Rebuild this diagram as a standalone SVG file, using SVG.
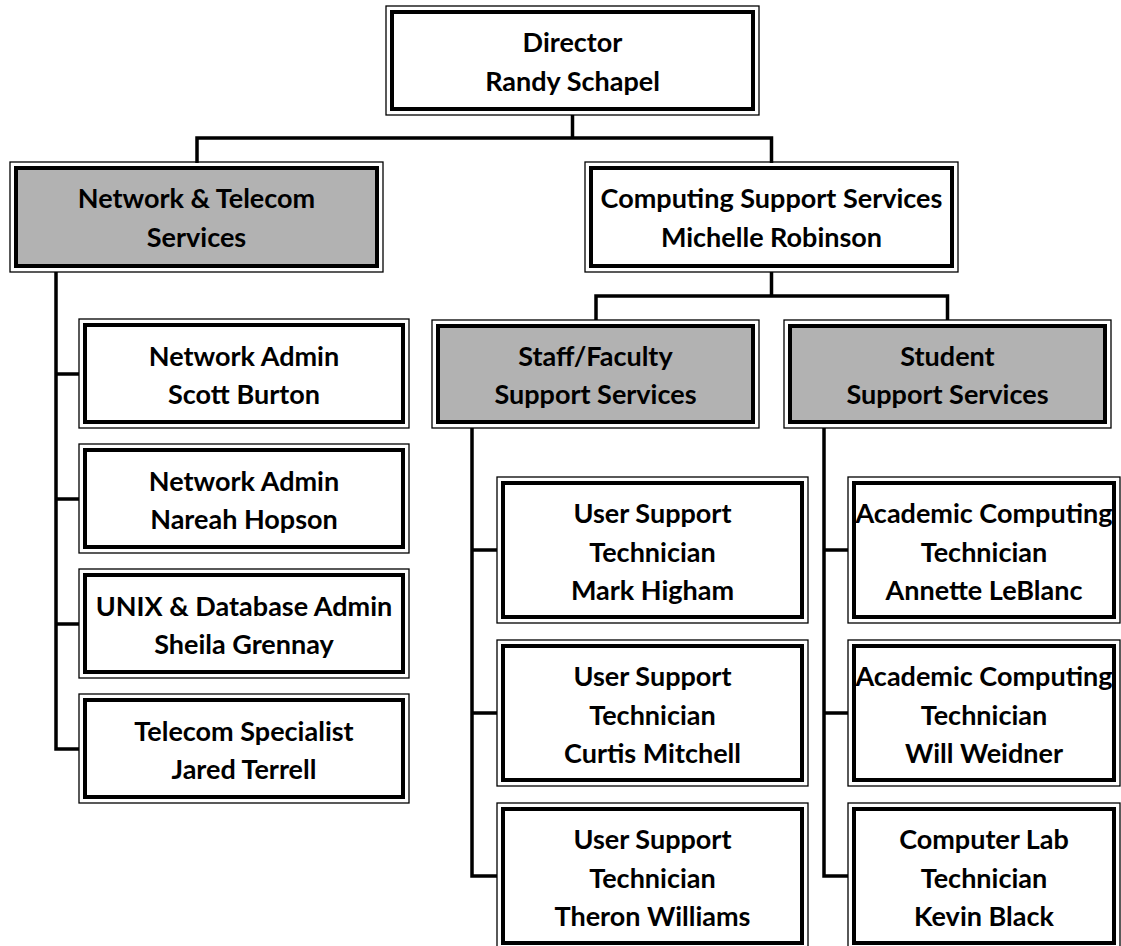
<svg xmlns="http://www.w3.org/2000/svg" width="1121" height="946" viewBox="0 0 1121 946">
<style>
.o{fill:none;stroke:#000;stroke-width:1.3}
.i{stroke:#000;stroke-width:4}
.w{fill:#fff}
.g{fill:#b2b2b2}
.t{font-family:Lato,"Liberation Sans",sans-serif;font-weight:bold;font-size:27px;fill:#000;text-anchor:middle}
.c{fill:none;stroke:#000;stroke-width:3.5;stroke-linejoin:miter}
</style>
<rect width="1121" height="946" fill="#fff"/>
<g id="connectors">
<path class="c" d="M572.5 115V138M197 163V138H771.5V163"/>
<path class="c" d="M771.5 272V296M596 320V296H947.5V320"/>
<path class="c" d="M56 272V749H79M56 374H79M56 499H79M56 624H79"/>
<path class="c" d="M472 428V876H497M472 550H497M472 713H497"/>
<path class="c" d="M824 428V876H848M824 550H848M824 713H848"/>
</g>
<g id="director">
<rect class="o" x="386" y="6" width="373" height="109"/>
<rect class="i w" x="392" y="12" width="361" height="97"/>
<text class="t" x="572.5" y="52">Director</text>
<text class="t" x="572.5" y="91">Randy Schapel</text>
</g>
<g id="network">
<rect class="o" x="10" y="162" width="373" height="110"/>
<rect class="i g" x="16" y="168" width="361" height="98"/>
<text class="t" x="196.5" y="208">Network &amp; Telecom</text>
<text class="t" x="196.5" y="247">Services</text>
</g>
<g id="computing">
<rect class="o" x="585" y="162" width="373" height="110"/>
<rect class="i w" x="591" y="168" width="361" height="98"/>
<text class="t" x="771.5" y="208">Computing Support Services</text>
<text class="t" x="771.5" y="247">Michelle Robinson</text>
</g>
<g id="staff">
<rect class="o" x="432" y="320" width="327" height="108"/>
<rect class="i g" x="438" y="326" width="315" height="96"/>
<text class="t" x="595.5" y="366">Staff/Faculty</text>
<text class="t" x="595.5" y="404">Support Services</text>
</g>
<g id="student">
<rect class="o" x="784" y="320" width="327" height="108"/>
<rect class="i g" x="790" y="326" width="315" height="96"/>
<text class="t" x="947.5" y="366">Student</text>
<text class="t" x="947.5" y="404">Support Services</text>
</g>
<g id="netadmin1">
<rect class="o" x="79" y="319" width="330" height="109"/>
<rect class="i w" x="85" y="325" width="318" height="97"/>
<text class="t" x="244" y="366">Network Admin</text>
<text class="t" x="244" y="404">Scott Burton</text>
</g>
<g id="netadmin2">
<rect class="o" x="79" y="444" width="330" height="109"/>
<rect class="i w" x="85" y="450" width="318" height="97"/>
<text class="t" x="244" y="491">Network Admin</text>
<text class="t" x="244" y="529">Nareah Hopson</text>
</g>
<g id="unixadmin">
<rect class="o" x="79" y="569" width="330" height="109"/>
<rect class="i w" x="85" y="575" width="318" height="97"/>
<text class="t" x="244" y="616">UNIX &amp; Database Admin</text>
<text class="t" x="244" y="654">Sheila Grennay</text>
</g>
<g id="telecom">
<rect class="o" x="79" y="694" width="330" height="109"/>
<rect class="i w" x="85" y="700" width="318" height="97"/>
<text class="t" x="244" y="741">Telecom Specialist</text>
<text class="t" x="244" y="779">Jared Terrell</text>
</g>
<g id="user1">
<rect class="o" x="497" y="477" width="311" height="146"/>
<rect class="i w" x="503" y="483" width="299" height="134"/>
<text class="t" x="652.5" y="523">User Support</text>
<text class="t" x="652.5" y="562">Technician</text>
<text class="t" x="652.5" y="600">Mark Higham</text>
</g>
<g id="user2">
<rect class="o" x="497" y="640" width="311" height="146"/>
<rect class="i w" x="503" y="646" width="299" height="134"/>
<text class="t" x="652.5" y="686">User Support</text>
<text class="t" x="652.5" y="725">Technician</text>
<text class="t" x="652.5" y="763">Curtis Mitchell</text>
</g>
<g id="user3">
<rect class="o" x="497" y="803" width="311" height="146"/>
<rect class="i w" x="503" y="809" width="299" height="134"/>
<text class="t" x="652.5" y="849">User Support</text>
<text class="t" x="652.5" y="888">Technician</text>
<text class="t" x="652.5" y="926">Theron Williams</text>
</g>
<g id="academic1">
<rect class="o" x="848" y="477" width="272" height="146"/>
<text class="t" x="984" y="523">Academic Computing</text>
<rect class="i" fill="none" x="854" y="483" width="260" height="134"/>
<text class="t" x="984" y="562">Technician</text>
<text class="t" x="984" y="600">Annette LeBlanc</text>
</g>
<g id="academic2">
<rect class="o" x="848" y="640" width="272" height="146"/>
<text class="t" x="984" y="686">Academic Computing</text>
<rect class="i" fill="none" x="854" y="646" width="260" height="134"/>
<text class="t" x="984" y="725">Technician</text>
<text class="t" x="984" y="763">Will Weidner</text>
</g>
<g id="lab">
<rect class="o" x="848" y="803" width="272" height="146"/>
<rect class="i w" x="854" y="809" width="260" height="134"/>
<text class="t" x="984" y="849">Computer Lab</text>
<text class="t" x="984" y="888">Technician</text>
<text class="t" x="984" y="926">Kevin Black</text>
</g>
</svg>
